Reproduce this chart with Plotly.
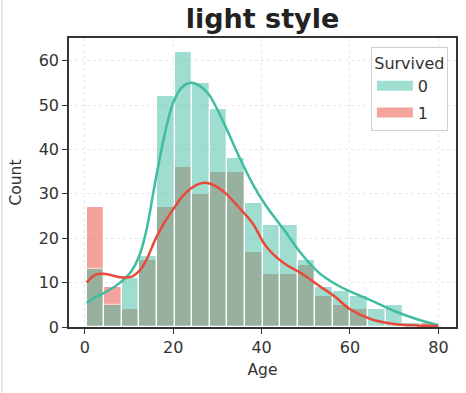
import numpy as np
import plotly.graph_objects as go

# ---- data ----
age_min, age_max = 0.42, 80.0
n_bins = 20
count_died = [13, 5, 11, 16, 52, 62, 55, 49, 38, 28, 23, 23, 15, 9, 8, 7, 4, 5, 1, 0]
count_survived = [27, 9, 4, 15, 27, 36, 30, 35, 35, 17, 12, 12, 14, 7, 5, 4, 0, 0, 0, 1]

kde_age = [0.42, 2.5, 5, 8, 10.5, 12.5, 14, 16, 18, 20, 22, 24, 26, 28, 30, 32,
           35, 38, 41, 45, 49, 53, 56.5, 60, 65, 70, 75, 80]
kde_died = [5.4, 6.8, 8.0, 10.0, 12.5, 16.5, 22, 33, 43, 50.5, 54, 55, 54.3, 52.5,
            49, 44.8, 38.2, 32.2, 27.3, 22, 16.5, 12.2, 9.8, 8.0, 5.9, 3.6, 1.8, 0.4]
kde_survived = [10.0, 11.8, 11.9, 11.2, 11.3, 12.8, 15.2, 19.8, 23.5, 26.5, 29.3,
                31.2, 32.3, 32.4, 31.5, 30, 26.8, 23.3, 18.2, 14.4, 12.1, 9.3, 6.9,
                4.0, 1.7, 0.7, 0.35, 0.25]

legend_title = "Survived"
labels = ["0", "1"]
x_ticks = [0, 20, 40, 60, 80]
y_ticks = [0, 10, 20, 30, 40, 50, 60]

# ---- styling ----
teal = "#3fbda1"
red = "#e84a3a"
teal_light = "#9fded0"
red_light = "#f4a49c"
font_family = "DejaVu Sans, Verdana, sans-serif"
text_color = "#333333"

edges = np.linspace(age_min, age_max, n_bins + 1)
centers = (edges[:-1] + edges[1:]) / 2
width = edges[1] - edges[0]

fig = go.Figure()

fig.add_trace(go.Bar(x=centers, y=count_survived, width=width, marker=dict(
    color=red, opacity=0.5, line=dict(color="white", width=1.3)), showlegend=False,
    hoverinfo="skip"))
fig.add_trace(go.Bar(x=centers, y=count_died, width=width, marker=dict(
    color=teal, opacity=0.5, line=dict(color="white", width=1.3)), showlegend=False,
    hoverinfo="skip"))

fig.add_trace(go.Scatter(x=kde_age, y=kde_died, mode="lines", line=dict(color=teal, width=2.5, shape="spline", smoothing=1.0), showlegend=False))
fig.add_trace(go.Scatter(x=kde_age, y=kde_survived, mode="lines", line=dict(color=red, width=2.5, shape="spline", smoothing=1.0), showlegend=False))

# legend entries
fig.add_trace(go.Scatter(x=[None], y=[None], mode="lines", name=labels[0],
                         legendgroup="g0", line=dict(color=teal_light, width=10)))
fig.add_trace(go.Scatter(x=[None], y=[None], mode="lines", name=labels[1],
                         legendgroup="g1", line=dict(color=red_light, width=10)))

L, R, T, B = 69, 10, 38, 66
W, H = 466, 393
PW, PH = W - L - R, H - T - B

fig.update_layout(
    width=W, height=H,
    margin=dict(l=L, r=R, t=T, b=B, pad=0),
    barmode="overlay",
    bargap=0,
    plot_bgcolor="white",
    paper_bgcolor="white",
    font=dict(family=font_family, size=16, color=text_color),
    title=dict(text="<b>light style</b>", x=(L + PW / 2) / W, xanchor="center",
               y=1 - 19 / H, yanchor="middle", yref="container",
               font=dict(size=27, color="#222222")),
    legend=dict(
        title=dict(text=legend_title, side="top center", font=dict(size=16)),
        x=0.979, y=0.969, xanchor="right", yanchor="top",
        bgcolor="white", bordercolor="#d0d0d0", borderwidth=1,
        font=dict(size=16), itemwidth=36, tracegroupgap=3,
    ),
    xaxis=dict(
        range=[-3.56, 83.98], tickvals=x_ticks, ticks="outside", ticklen=5,
        tickcolor=text_color, tickwidth=1.2, showline=True, linecolor="#333333",
        linewidth=1.5, mirror=True, showgrid=True, gridcolor="#e8e8e8",
        griddash="dot", gridwidth=1, zeroline=False, automargin=False,
        title=dict(text="Age", standoff=8, font=dict(size=15.5)),
    ),
    yaxis=dict(
        range=[0, 65.1], tickvals=y_ticks, ticks="outside", ticklen=5,
        tickcolor=text_color, tickwidth=1.2, showline=True, linecolor="#333333",
        linewidth=1.5, mirror=True, showgrid=True, gridcolor="#e8e8e8",
        griddash="dot", gridwidth=1, zeroline=False, automargin=False,
        title=dict(text="Count", standoff=13, font=dict(size=15.5)),
    ),
    shapes=[dict(type="line", xref="paper", yref="paper",
                 x0=(2 - L) / PW, x1=(2 - L) / PW, y0=-B / PH, y1=1 + T / PH,
                 line=dict(color="#e2e2e2", width=1.5))],
)

fig.write_html("out.html", config={"displayModeBar": False},
               post_script="document.body.style.margin='0';")
